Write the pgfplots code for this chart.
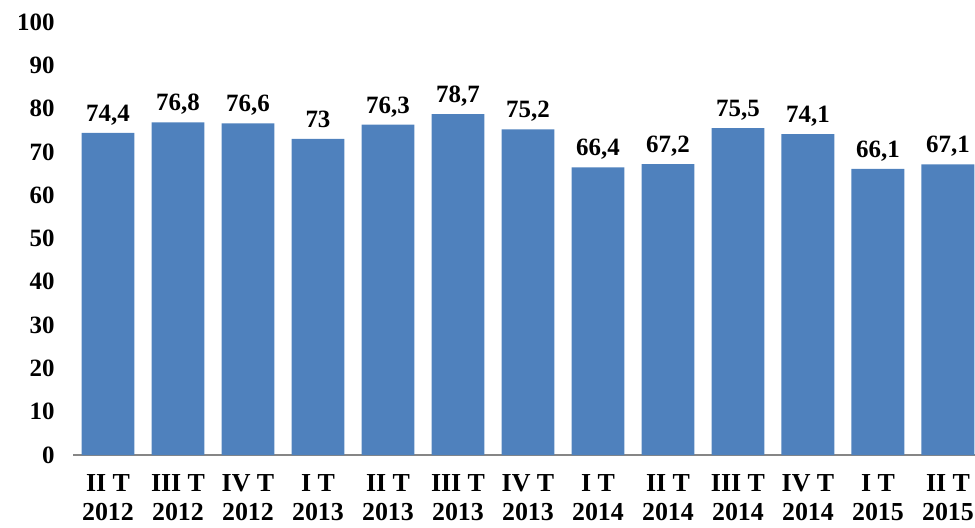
\documentclass[border=0pt]{standalone}
\usepackage{fontspec}
\setmainfont{Liberation Serif}
\usepackage{pgfplots}
\pgfplotsset{compat=1.18}
\definecolor{barblue}{HTML}{4F81BD}
\definecolor{axgray}{HTML}{868686}
\begin{document}
\begin{tikzpicture}
\useasboundingbox (0,0) rectangle (975bp,528bp);
\begin{axis}[
  at={(73bp,73bp)}, anchor=south west,
  scale only axis, width=902bp, height=433bp,
  xmin=-0.5, xmax=12.386, ymin=0, ymax=100,
  ytick={0,10,...,100},
  xtick={0,...,12},
  xticklabels={{II T\\2012},{III T\\2012},{IV T\\2012},{I T\\2013},{II T\\2013},{III T\\2013},{IV T\\2013},{I T\\2014},{II T\\2014},{III T\\2014},{IV T\\2014},{I T\\2015},{II T\\2015}},
  axis x line=bottom, axis y line=left,
  x axis line style={draw=axgray, line width=2bp, -},
  y axis line style={draw=none},
  major tick length=0pt,
  /pgf/number format/assume math mode=true,
  yticklabel style={font=\fontsize{25}{30}\selectfont\bfseries, xshift=-15bp},
  xticklabel style={font=\fontsize{26}{29}\selectfont\bfseries, align=center, yshift=-16bp},
  clip=false,
  ybar, bar width=0.757,
  nodes near coords,
  /pgf/number format/use comma,
  every node near coord/.append style={font=\fontsize{25}{30}\selectfont\bfseries, text depth=0pt, yshift=8bp},
]
\addplot[fill=barblue, draw=none] coordinates {
(0,74.4) (1,76.8) (2,76.6) (3,73) (4,76.3) (5,78.7) (6,75.2) (7,66.4) (8,67.2) (9,75.5) (10,74.1) (11,66.1) (12,67.1)
};
\end{axis}
\end{tikzpicture}
\end{document}
